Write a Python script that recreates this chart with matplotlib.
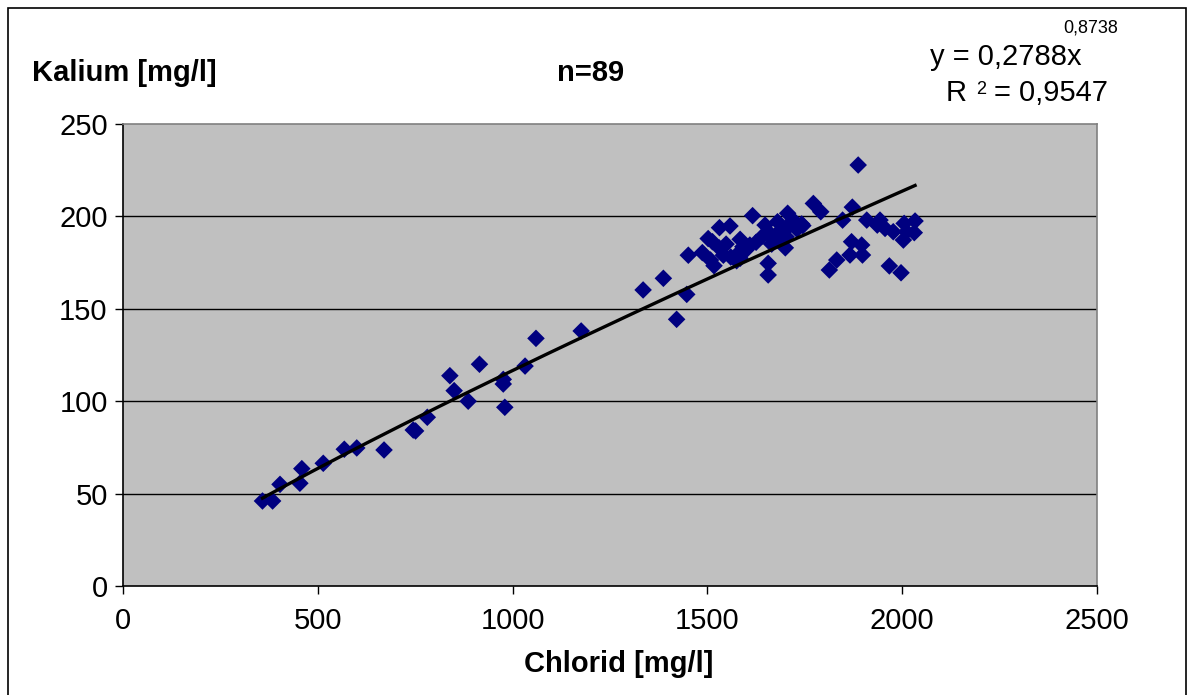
import numpy as np
import matplotlib
matplotlib.use("Agg")
import matplotlib.pyplot as plt
from matplotlib.patches import Rectangle

# Chlorid [mg/l] vs Kalium [mg/l]
chlorid = [358, 384, 403, 454, 459, 514, 568, 600, 670, 745, 751, 781, 839, 850,
           886, 915, 976, 976, 980, 1032, 1060, 1176,
           1335, 1387, 1421, 1447,
           1451, 1487, 1531, 1558, 1502, 1513, 1548, 1508, 1517, 1541, 1584, 1591,
           1609, 1579, 1584, 1616, 1648, 1642, 1656, 1680, 1656, 1656, 1672, 1686,
           1695, 1706, 1720, 1742, 1702, 1700,
           1745, 1772, 1791, 1847, 1872, 1887, 1909, 1943, 1936, 1956, 1977, 2005,
           2033, 2011, 2031, 2003, 1870, 1896, 1866, 1898, 1832, 1813, 1967, 1997,
           1530, 1560, 1600, 1665, 1690, 1710, 1730, 1625, 1575]
kalium = [46, 46, 55, 55.6, 63.5, 66.4, 74, 74.7, 73.6, 84.4, 83.9, 91.3, 113.8, 105.7,
          100, 120, 111.8, 109.3, 96.7, 119, 134, 138,
          160.2, 166.5, 144.3, 157.8,
          179, 180.4, 193.9, 194.8, 188, 186.3, 185, 176.4, 173.3, 179, 187.6, 183.6,
          184.5, 180, 177.3, 200.4, 195.3, 189.4, 191.7, 197.1, 174.6, 168.3, 187.2, 189,
          191.7, 201.7, 198, 195.9, 189, 183,
          195, 207, 202.5, 198, 205, 227.8, 198, 198, 195.3, 193.5, 191.7, 196.2,
          197.5, 191.7, 191.2, 187.2, 186.3, 184.5, 179.1, 179.1, 176.4, 171, 173.2, 169.5,
          183, 178, 182, 185, 193, 195, 193, 186, 176]

# power trendline y = a * x^b
fit_a = 0.2788
fit_b = 0.8738
xticks = [0, 500, 1000, 1500, 2000, 2500]
yticks = [0, 50, 100, 150, 200, 250]

W, H = 1194, 695
fig = plt.figure(figsize=(W / 100, H / 100), dpi=100)
plt.rcParams['font.family'] = ['Liberation Sans', 'DejaVu Sans']

# outer border
fig.patches.append(Rectangle((8 / W, -0.01), (1186 - 8) / W, 1.01 - 8 / H,
                             transform=fig.transFigure, fill=False,
                             edgecolor='black', linewidth=1.2))

ax = fig.add_axes([123 / W, 1 - 586 / H, (1097 - 123) / W, (586 - 124) / H])
ax.set_facecolor('#c0c0c0')
ax.set_xlim(0, 2500)
ax.set_ylim(0, 250)
ax.set_xticks(xticks)
ax.set_yticks(yticks)
ax.set_xticklabels([str(t) for t in xticks])
ax.set_yticklabels([str(t) for t in yticks])
ax.tick_params(axis='both', direction='out', length=6, width=1, labelsize=21,
               color='black')
ax.tick_params(axis='x', pad=9)
ax.tick_params(axis='y', pad=5)

for yv in yticks[1:-1]:
    ax.axhline(yv, color='black', linewidth=1, zorder=1)

for s in ['left', 'bottom']:
    ax.spines[s].set_color('black')
    ax.spines[s].set_linewidth(1.2)
for s in ['top', 'right']:
    ax.spines[s].set_color('#808080')
    ax.spines[s].set_linewidth(1.2)

ax.scatter(chlorid, kalium, marker='D', s=80, color='#000080', edgecolors='none',
           zorder=3)

xs = np.linspace(min(chlorid), max(chlorid), 200)
ax.plot(xs, fit_a * xs ** fit_b, color='black', linewidth=2.4, zorder=4)

# texts
fig.text(32 / W, 1 - 73 / H, 'Kalium [mg/l]', fontsize=21, fontweight='bold',
         ha='left', va='center')
fig.text(591 / W, 1 - 73 / H, 'n=89', fontsize=21, fontweight='bold',
         ha='center', va='center')
fig.text(619 / W, 1 - 664 / H, 'Chlorid [mg/l]', fontsize=21, fontweight='bold',
         ha='center', va='center')
fig.text(930 / W, 1 - 57 / H, 'y = 0,2788x', fontsize=21, ha='left', va='center')
fig.text(1063 / W, 1 - 28 / H, '0,8738', fontsize=13, ha='left', va='center')
fig.text(946 / W, 1 - 93 / H, 'R', fontsize=21, ha='left', va='center')
fig.text(976 / W, 1 - 90 / H, '2', fontsize=13, ha='left', va='center')
fig.text(994 / W, 1 - 93 / H, '= 0,9547', fontsize=21, ha='left', va='center')

fig.savefig('out.png', dpi=100)
